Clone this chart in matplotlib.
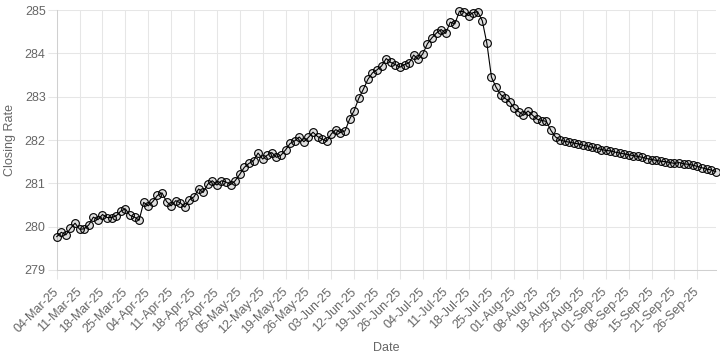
import matplotlib
matplotlib.use("Agg")
import matplotlib.pyplot as plt

# ---------------------------------------------------------------------------
# data (one point per trading day, labels every 5th)

tick_labels = ["04-Mar-25", "11-Mar-25", "18-Mar-25", "25-Mar-25", "04-Apr-25",
               "11-Apr-25", "18-Apr-25", "25-Apr-25", "05-May-25", "12-May-25",
               "19-May-25", "26-May-25", "03-Jun-25", "12-Jun-25", "19-Jun-25",
               "26-Jun-25", "04-Jul-25", "11-Jul-25", "18-Jul-25", "25-Jul-25",
               "01-Aug-25", "08-Aug-25", "18-Aug-25", "25-Aug-25", "01-Sep-25",
               "08-Sep-25", "15-Sep-25", "21-Sep-25", "26-Sep-25"]

closing_rate = [
    279.77, 279.87, 279.81, 279.96, 280.08, 279.94, 279.95, 280.04, 280.22, 280.16,
    280.28, 280.21, 280.21, 280.25, 280.36, 280.41, 280.26, 280.22, 280.15, 280.56,
    280.48, 280.58, 280.72, 280.78, 280.58, 280.48, 280.60, 280.55, 280.45, 280.62,
    280.69, 280.87, 280.79, 280.98, 281.06, 280.96, 281.06, 281.03, 280.97, 281.06,
    281.21, 281.37, 281.46, 281.52, 281.70, 281.56, 281.65, 281.71, 281.60, 281.65,
    281.77, 281.92, 281.98, 282.07, 281.96, 282.06, 282.18, 282.08, 282.02, 281.97,
    282.14, 282.24, 282.17, 282.21, 282.48, 282.68, 282.96, 283.17, 283.40, 283.55,
    283.62, 283.71, 283.88, 283.79, 283.74, 283.68, 283.74, 283.78, 283.96, 283.86,
    283.99, 284.22, 284.36, 284.47, 284.55, 284.46, 284.72, 284.68, 284.97, 284.96,
    284.87, 284.94, 284.96, 284.75, 284.23, 283.45, 283.22, 283.05, 282.96, 282.88,
    282.73, 282.65, 282.57, 282.67, 282.57, 282.48, 282.45, 282.43, 282.22, 282.07,
    282.00, 281.97, 281.95, 281.93, 281.91, 281.88, 281.86, 281.83, 281.81, 281.78,
    281.76, 281.75, 281.72, 281.70, 281.68, 281.66, 281.64, 281.62, 281.60, 281.57,
    281.55, 281.53, 281.51, 281.50, 281.48, 281.46, 281.48, 281.45, 281.44, 281.42,
    281.39, 281.36, 281.33, 281.31, 281.27,
]

y_ticks = [279, 280, 281, 282, 283, 284, 285]

# ---------------------------------------------------------------------------

plt.rcParams["font.family"] = ["Liberation Sans", "DejaVu Sans"]
grid_col = "#e6e6e6"
text_col = "#666666"

fig = plt.figure(figsize=(7.2, 3.6), dpi=100)
ax = fig.add_axes([0.0788, 0.25, 0.9152, 0.7222])

x = list(range(len(closing_rate)))
ax.plot(x, closing_rate, color="black", lw=0.8, marker="o", markersize=5.6,
        markerfacecolor=(0, 0, 0, 0.12), markeredgecolor="black",
        markeredgewidth=0.8, clip_on=False, zorder=3)

ax.set_xlim(0, len(closing_rate) - 1)
ax.set_ylim(279, 285)
ax.set_yticks(y_ticks)
ax.set_xticks(x[::5])
ax.set_xticklabels(tick_labels, rotation=45, ha="right", va="center",
                   rotation_mode="anchor")

ax.grid(True, color=grid_col, lw=0.75)
for s in ax.spines.values():
    s.set_visible(False)
ax.spines["left"].set_visible(True)
ax.spines["bottom"].set_visible(True)
ax.spines["left"].set_color("#d0d0d0")
ax.spines["bottom"].set_color("#d0d0d0")
ax.spines["left"].set_linewidth(0.75)
ax.spines["bottom"].set_linewidth(0.75)

ax.tick_params(axis="both", colors=grid_col, length=6.5, width=0.75,
               labelcolor=text_col, labelsize=9)
ax.tick_params(axis="y", pad=1.5)
ax.tick_params(axis="x", pad=8)

ax.set_ylabel("Closing Rate", color=text_col, fontsize=9, labelpad=6)
ax.set_xlabel("Date", color=text_col, fontsize=9, labelpad=4)

fig.savefig("out.png", dpi=100)
